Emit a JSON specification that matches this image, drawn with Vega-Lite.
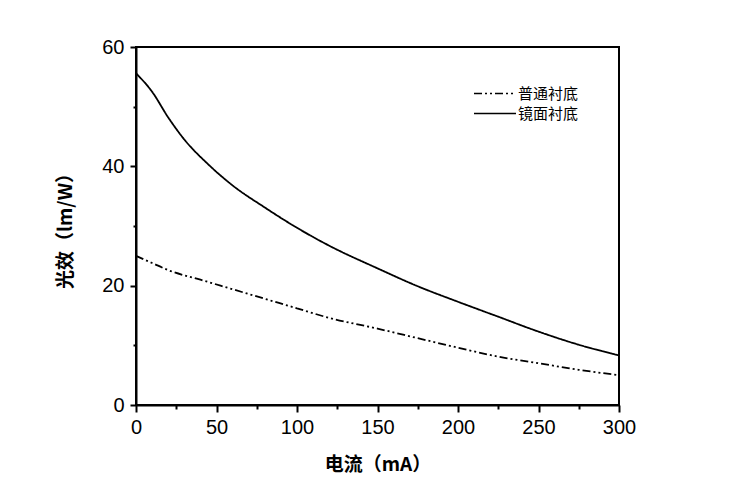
{
  "$schema": "https://vega.github.io/schema/vega-lite/v6.json",
  "autosize": {"type": "none"},
  "padding": {"left": 136, "top": 47, "right": 123, "bottom": 79},
  "width": 483,
  "height": 358,
  "background": "white",
  "config": {
    "view": {"stroke": "black", "strokeWidth": 2},
    "axis": {
      "grid": false,
      "domainColor": "black",
      "domainWidth": 2,
      "tickColor": "black",
      "tickWidth": 2,
      "labelFont": "Liberation Sans",
      "labelFontSize": 20,
      "labelColor": "black",
      "titleFont": "Noto Sans CJK SC",
      "titleFontSize": 19,
      "titleFontWeight": "bold",
      "titleColor": "black"
    }
  },
  "data": {
    "values": [
      {"series": "镜面衬底", "current": 0, "efficacy": 55.6},
      {"series": "镜面衬底", "current": 10, "efficacy": 52.5},
      {"series": "镜面衬底", "current": 20, "efficacy": 48.2},
      {"series": "镜面衬底", "current": 30, "efficacy": 44.5},
      {"series": "镜面衬底", "current": 45, "efficacy": 40.3},
      {"series": "镜面衬底", "current": 60, "efficacy": 36.8},
      {"series": "镜面衬底", "current": 80, "efficacy": 33.1},
      {"series": "镜面衬底", "current": 100, "efficacy": 29.7},
      {"series": "镜面衬底", "current": 120, "efficacy": 26.7},
      {"series": "镜面衬底", "current": 150, "efficacy": 22.9},
      {"series": "镜面衬底", "current": 175, "efficacy": 19.9},
      {"series": "镜面衬底", "current": 200, "efficacy": 17.3},
      {"series": "镜面衬底", "current": 225, "efficacy": 14.8},
      {"series": "镜面衬底", "current": 250, "efficacy": 12.3},
      {"series": "镜面衬底", "current": 275, "efficacy": 10.1},
      {"series": "镜面衬底", "current": 300, "efficacy": 8.3},
      {"series": "普通衬底", "current": 0, "efficacy": 25.0},
      {"series": "普通衬底", "current": 10, "efficacy": 23.8},
      {"series": "普通衬底", "current": 20, "efficacy": 22.6},
      {"series": "普通衬底", "current": 40, "efficacy": 21.0},
      {"series": "普通衬底", "current": 60, "efficacy": 19.4},
      {"series": "普通衬底", "current": 80, "efficacy": 17.8},
      {"series": "普通衬底", "current": 100, "efficacy": 16.2},
      {"series": "普通衬底", "current": 120, "efficacy": 14.6},
      {"series": "普通衬底", "current": 150, "efficacy": 12.8},
      {"series": "普通衬底", "current": 175, "efficacy": 11.2},
      {"series": "普通衬底", "current": 200, "efficacy": 9.6},
      {"series": "普通衬底", "current": 225, "efficacy": 8.1},
      {"series": "普通衬底", "current": 250, "efficacy": 7.0},
      {"series": "普通衬底", "current": 275, "efficacy": 5.9},
      {"series": "普通衬底", "current": 300, "efficacy": 5.0}
    ]
  },
  "mark": {"type": "line", "interpolate": "monotone", "strokeWidth": 1.8, "color": "black"},
  "encoding": {
    "x": {
      "field": "current",
      "type": "quantitative",
      "scale": {"domain": [0, 300], "nice": false},
      "axis": {
        "title": "电流（mA）",
        "values": [0, 25, 50, 75, 100, 125, 150, 175, 200, 225, 250, 275, 300],
        "labelExpr": "datum.value % 50 === 0 ? datum.label : ''",
        "tickSize": {"condition": {"test": "datum.value % 50 === 0", "value": 7}, "value": 4},
        "labelPadding": 5,
        "titlePadding": 18,
        "labelFlush": false
      }
    },
    "y": {
      "field": "efficacy",
      "type": "quantitative",
      "scale": {"domain": [0, 60], "nice": false},
      "axis": {
        "title": "光效（lm/W）",
        "values": [0, 10, 20, 30, 40, 50, 60],
        "labelExpr": "datum.value % 20 === 0 ? datum.label : ''",
        "tickSize": {"condition": {"test": "datum.value % 20 === 0", "value": 6}, "value": 3},
        "labelPadding": 6,
        "titlePadding": 26,
        "labelFlush": false
      }
    },
    "strokeDash": {
      "field": "series",
      "type": "nominal",
      "scale": {"domain": ["普通衬底", "镜面衬底"], "range": [[8, 3, 2, 3, 2, 3], [1, 0]]},
      "legend": {
        "title": null,
        "orient": "none",
        "legendX": 358,
        "legendY": 35,
        "symbolType": "M-3,0H1",
        "symbolSize": 441,
        "symbolStrokeWidth": 1.6,
        "symbolStrokeColor": "black",
        "labelFont": "Noto Sans CJK SC",
        "labelFontSize": 15,
        "labelColor": "black",
        "labelOffset": 1,
        "rowPadding": -5
      }
    }
  }
}
